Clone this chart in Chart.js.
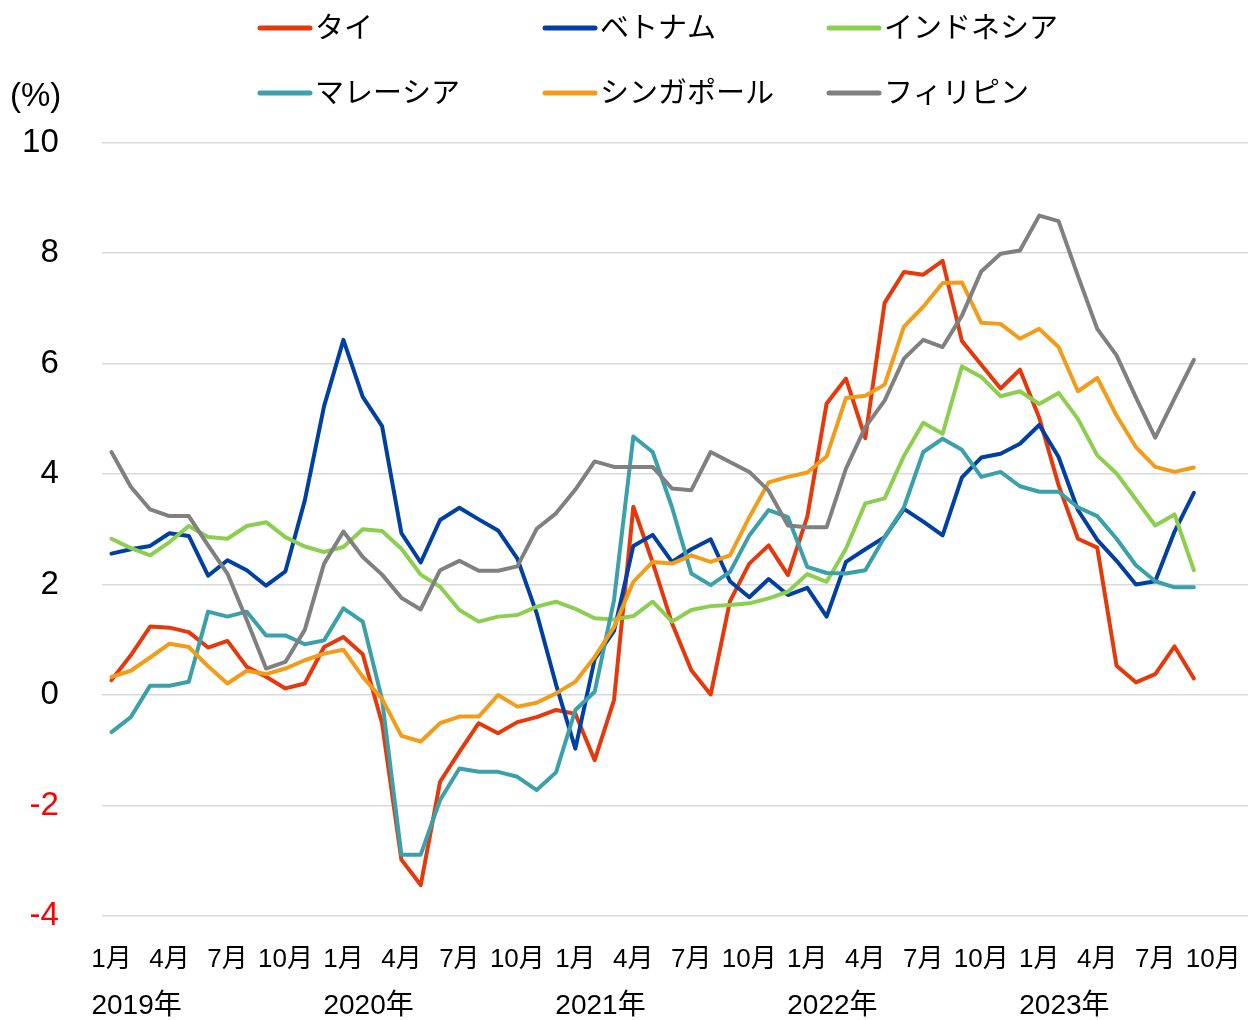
<!DOCTYPE html>
<html>
<head>
<meta charset="utf-8">
<script src="https://cdn.jsdelivr.net/npm/chart.js@4.4.0/dist/chart.umd.min.js"></script>
<style>
  html, body { margin: 0; padding: 0; background: #fff; }
  #wrap { width: 1248px; height: 1020px; }
</style>
</head>
<body>
<div id="wrap"><canvas id="myChart" width="1248" height="1020"></canvas></div>
<script>
// months: Jan 2019 .. Sep 2023
var months = [];
for (var y = 2019; y <= 2023; y++) {
    for (var m = 1; m <= 12; m++) {
        if (y === 2023 && m > 9) break;
        months.push(y + '年' + m + '月');
    }
}

var seriesNames = ['タイ', 'ベトナム', 'インドネシア', 'マレーシア', 'シンガポール', 'フィリピン'];

var thailand = [0.27, 0.72, 1.24, 1.22, 1.14, 0.86, 0.98, 0.51, 0.33, 0.12, 0.21, 0.87,
    1.05, 0.74, -0.51, -2.98, -3.44, -1.57, -1.03, -0.51, -0.69, -0.49, -0.40, -0.27,
    -0.34, -1.18, -0.09, 3.41, 2.40, 1.30, 0.45, 0.01, 1.70, 2.38, 2.71, 2.17,
    3.23, 5.28, 5.73, 4.65, 7.10, 7.66, 7.61, 7.86, 6.41, 5.98, 5.55, 5.89,
    5.02, 3.80, 2.83, 2.67, 0.53, 0.23, 0.38, 0.88, 0.30];
var vietnam = [2.56, 2.64, 2.70, 2.93, 2.88, 2.16, 2.44, 2.26, 1.98, 2.24, 3.52, 5.23,
    6.43, 5.40, 4.87, 2.93, 2.40, 3.17, 3.39, 3.18, 2.98, 2.47, 1.48, 0.19,
    -0.97, 0.65, 1.16, 2.70, 2.90, 2.41, 2.64, 2.82, 2.06, 1.77, 2.10, 1.81,
    1.94, 1.42, 2.41, 2.64, 2.86, 3.37, 3.14, 2.89, 3.94, 4.30, 4.37, 4.55,
    4.89, 4.31, 3.35, 2.81, 2.43, 2.00, 2.06, 2.96, 3.66];
var indonesia = [2.83, 2.66, 2.53, 2.77, 3.06, 2.86, 2.83, 3.06, 3.13, 2.86, 2.69, 2.59,
    2.68, 3.00, 2.97, 2.65, 2.18, 1.96, 1.54, 1.33, 1.42, 1.45, 1.60, 1.69,
    1.56, 1.39, 1.37, 1.43, 1.69, 1.33, 1.54, 1.61, 1.63, 1.66, 1.75, 1.87,
    2.19, 2.05, 2.65, 3.47, 3.56, 4.33, 4.93, 4.73, 5.95, 5.76, 5.41, 5.50,
    5.27, 5.47, 5.00, 4.34, 4.01, 3.54, 3.07, 3.27, 2.26];
var malaysia = [-0.67, -0.40, 0.17, 0.17, 0.24, 1.51, 1.42, 1.51, 1.08, 1.08, 0.92, 0.99,
    1.57, 1.33, -0.08, -2.89, -2.89, -1.90, -1.33, -1.39, -1.39, -1.48, -1.72, -1.40,
    -0.27, 0.06, 1.72, 4.68, 4.40, 3.40, 2.20, 1.99, 2.23, 2.89, 3.35, 3.22,
    2.32, 2.21, 2.20, 2.26, 2.86, 3.40, 4.40, 4.64, 4.44, 3.95, 4.04, 3.78,
    3.68, 3.68, 3.40, 3.24, 2.83, 2.35, 2.06, 1.95, 1.95];
var singapore = [0.33, 0.44, 0.68, 0.93, 0.87, 0.52, 0.21, 0.44, 0.38, 0.48, 0.63, 0.75,
    0.82, 0.33, -0.07, -0.74, -0.84, -0.51, -0.39, -0.39, 0.00, -0.21, -0.14, 0.03,
    0.24, 0.69, 1.23, 2.05, 2.41, 2.38, 2.53, 2.41, 2.53, 3.22, 3.85, 3.95,
    4.03, 4.32, 5.38, 5.42, 5.62, 6.67, 7.03, 7.46, 7.47, 6.74, 6.72, 6.45,
    6.63, 6.30, 5.50, 5.74, 5.06, 4.49, 4.13, 4.04, 4.12];
var philippines = [4.40, 3.77, 3.36, 3.24, 3.24, 2.71, 2.20, 1.36, 0.48, 0.60, 1.18, 2.38,
    2.96, 2.50, 2.18, 1.76, 1.55, 2.26, 2.43, 2.25, 2.25, 2.33, 3.01, 3.29,
    3.72, 4.23, 4.13, 4.13, 4.13, 3.74, 3.71, 4.40, 4.22, 4.04, 3.70, 3.07,
    3.04, 3.04, 4.10, 4.85, 5.33, 6.09, 6.43, 6.30, 6.87, 7.67, 7.99, 8.05,
    8.68, 8.58, 7.59, 6.63, 6.15, 5.39, 4.66, 5.37, 6.07];

var monthTickLabels = ['1月', '4月', '7月', '10月'];
var yearLabels = ['2019年', '2020年', '2021年', '2022年', '2023年'];
var yTicks = [-4, -2, 0, 2, 4, 6, 8, 10];

var allSeries = [thailand, vietnam, indonesia, malaysia, singapore, philippines];
var colors = ['#e5390b', '#0040a2', '#8ccf4f', '#3aa0aa', '#f39c1a', '#808080'];

var FONT = '"Liberation Sans", Arial, "Noto Sans CJK JP", sans-serif';

function toPoints(arr) {
    return arr.map(function (v, i) { return { x: i, y: v }; });
}

var datasets = allSeries.map(function (arr, i) {
    return {
        label: seriesNames[i],
        data: toPoints(arr),
        borderColor: colors[i],
        backgroundColor: colors[i],
        borderWidth: 4,
        pointRadius: 0,
        tension: 0,
        borderCapStyle: 'round',
        borderJoinStyle: 'round',
        order: allSeries.length - i   // later series on top, like the original
    };
});

// legend in a 3 x 2 grid, drawn on the canvas
var legendGrid = {
    id: 'legendGrid',
    afterDraw: function (chart) {
        var ctx = chart.ctx;
        var cols = [258, 543, 827];
        var rows = [28, 93];
        ctx.save();
        ctx.font = '29px ' + FONT;
        ctx.textBaseline = 'middle';
        ctx.textAlign = 'left';
        chart.data.datasets.forEach(function (ds, i) {
            var x = cols[i % 3], y = rows[Math.floor(i / 3)];
            ctx.strokeStyle = ds.borderColor;
            ctx.lineWidth = 5;
            ctx.lineCap = 'round';
            ctx.beginPath();
            ctx.moveTo(x + 2, y);
            ctx.lineTo(x + 52, y);
            ctx.stroke();
            ctx.fillStyle = '#000';
            ctx.fillText(ds.label, x + 57, y + 2);
        });
        // unit
        ctx.font = '33px ' + FONT;
        ctx.fillText('(%)', 10, 97);
        ctx.restore();
    }
};

// year row under the month ticks
var yearRow = {
    id: 'yearRow',
    afterDraw: function (chart) {
        var ctx = chart.ctx;
        var xs = chart.scales.x;
        ctx.save();
        ctx.font = '28px ' + FONT;
        ctx.fillStyle = '#000';
        ctx.textBaseline = 'middle';
        ctx.textAlign = 'left';
        yearLabels.forEach(function (t, k) {
            ctx.fillText(t, xs.getPixelForValue(k * 12) - 20, 1006);
        });
        ctx.restore();
    }
};

var myMainChart;
function Drawgraphonfront() {
    var canvas = document.getElementById('myChart');
    var ctx = canvas.getContext('2d');
    myMainChart = new Chart(ctx, {
        type: 'line',
        data: { datasets: datasets },
        plugins: [legendGrid, yearRow],
        options: {
            responsive: false,
            animation: false,
            devicePixelRatio: 1,
            layout: { padding: { top: 142.7, right: 0, bottom: 0, left: 0 } },
            plugins: {
                legend: { display: false },
                tooltip: { enabled: false },
                title: { display: false }
            },
            scales: {
                x: {
                    type: 'linear',
                    min: -0.5,
                    max: 58.8,
                    grid: { display: false, drawTicks: false },
                    border: { display: false },
                    afterFit: function (s) {
                        s.height = 104;
                        s.paddingLeft = 0;
                        s.paddingRight = 0;
                    },
                    afterBuildTicks: function (s) {
                        var t = [];
                        for (var v = 0; v <= 57; v += 3) t.push({ value: v });
                        s.ticks = t;
                    },
                    ticks: {
                        autoSkip: false,
                        maxRotation: 0,
                        padding: 28,
                        color: '#000',
                        font: { family: FONT, size: 26 },
                        callback: function (v) { return monthTickLabels[(v / 3) % 4]; }
                    }
                },
                y: {
                    min: -4,
                    max: 10,
                    afterFit: function (s) { s.width = 101.8; },
                    afterBuildTicks: function (s) {
                        s.ticks = yTicks.map(function (v) { return { value: v }; });
                    },
                    grid: { color: '#d9d9d9', lineWidth: 1.5, drawTicks: false },
                    border: { display: false },
                    ticks: {
                        padding: 43,
                        font: { family: FONT, size: 33 },
                        color: function (c) { return c.tick.value < 0 ? '#ff0000' : '#000'; }
                    }
                }
            }
        }
    });
}

document.addEventListener('readystatechange', function (event) {
    if (event.target.readyState === 'complete') {
        Drawgraphonfront();
    }
});
</script>
</body>
</html>
